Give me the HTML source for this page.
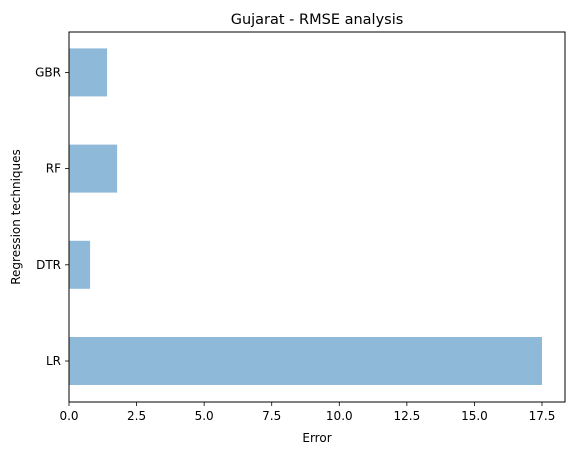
<!DOCTYPE html>
<html><head><meta charset="utf-8"><style>body{margin:0;background:#fff}text{font-family:"DejaVu Sans","Liberation Sans",sans-serif;fill:#000}</style></head>
<body>
<svg id="c" width="575" height="455" xmlns="http://www.w3.org/2000/svg"></svg>
<script>
const categories = ["LR","DTR","RF","GBR"];
const values = [17.5, 0.78, 1.78, 1.41];
const xTicks = [0, 2.5, 5, 7.5, 10, 12.5, 15, 17.5];
const xTickLabels = ["0.0","2.5","5.0","7.5","10.0","12.5","15.0","17.5"];
const svg = document.getElementById('c');
const NS = 'http://www.w3.org/2000/svg';
const L=69, R=565, T=32, B=402;
const x = v => L + v * (473/17.5);
const y = i => 361 - i * 96.2;
function mk(tag, attrs, parent){const e=document.createElementNS(NS,tag);for(const k in attrs)e.setAttribute(k,attrs[k]);(parent||svg).appendChild(e);return e;}
categories.forEach((c,i)=>{
  const r = mk('rect',{x:L,y:y(i)-24,width:x(values[i])-L,height:48,fill:'#8fb9d9'});
  
  
  const t = mk('line',{x1:L-4,x2:L,y1:y(i),y2:y(i),stroke:'#000','stroke-width':0.8});
  
  
  const lb = mk('text',{x:L-8,y:y(i)+4,'text-anchor':'end','font-size':12});
  lb.textContent=c;
  
  
});
xTicks.forEach((v,i)=>{
  const t = mk('line',{x1:x(v),x2:x(v),y1:B,y2:B+4,stroke:'#000','stroke-width':0.8});
  
  
  const lb = mk('text',{x:x(v),y:B+18,'text-anchor':'middle','font-size':12});
  lb.textContent=xTickLabels[i];
  
  
});
const fr = mk('rect',{x:L,y:T,width:R-L,height:B-T,fill:'none',stroke:'#000','stroke-width':1});


const ti = mk('text',{x:(L+R)/2,y:24,'text-anchor':'middle','font-size':14.5});
ti.textContent='Gujarat - RMSE analysis';


const xl = mk('text',{x:(L+R)/2,y:442,'text-anchor':'middle','font-size':12});
xl.textContent='Error';


const yl = mk('text',{x:0,y:0,'text-anchor':'middle','font-size':12,transform:'translate(20,217) rotate(-90)'});
yl.textContent='Regression techniques';


</script>
</body></html>
